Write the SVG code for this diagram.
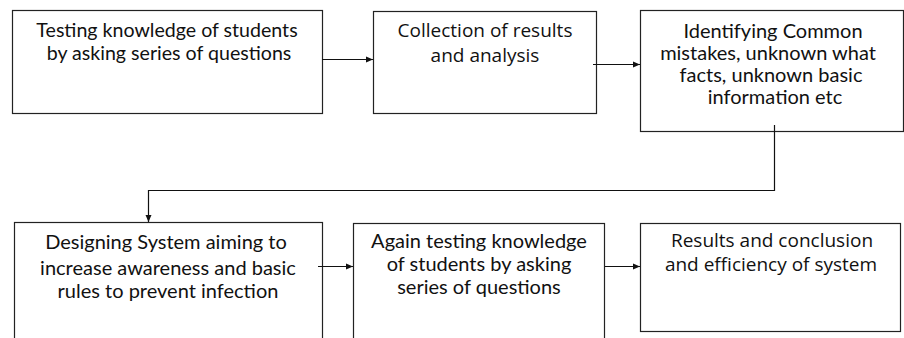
<svg xmlns="http://www.w3.org/2000/svg" width="904" height="338" viewBox="0 0 904 338">
<style>
.box{fill:#fff;stroke:#222;stroke-width:1.2}
.t{font-family:Lato,"Open Sans",sans-serif;font-size:20px;fill:#111;text-anchor:middle}
.g{font-family:"Open Sans",Lato,sans-serif;font-size:19px;fill:#111;text-anchor:middle}
.c{fill:none;stroke:#111;stroke-width:1.2}
</style>
<defs>
<marker id="ah" markerWidth="8" markerHeight="8" refX="7" refY="4" orient="auto" markerUnits="userSpaceOnUse">
<path d="M0,1 L7,4 L0,7 Z" fill="#111"/>
</marker>
</defs>
<rect width="904" height="338" fill="#fff"/>
<g id="n1">
<rect class="box" x="12.5" y="10.5" width="310" height="103"/>
<text class="t" x="167" y="37" style="font-size:19.6px">Testing knowledge of students</text>
<text class="t" x="169" y="59.5" style="font-size:19.6px">by asking series of questions</text>
</g>
<g id="n2">
<rect class="box" x="373.5" y="11.5" width="223" height="102"/>
<text class="g" x="485" y="37">Collection of results</text>
<text class="g" x="485" y="62">and analysis</text>
</g>
<g id="n3">
<rect class="box" x="640.5" y="10.5" width="263" height="121"/>
<text class="t" x="773" y="38">Identifying Common</text>
<text class="t" x="768" y="60">mistakes, unknown what</text>
<text class="t" x="771" y="82">facts, unknown basic</text>
<text class="t" x="775" y="104">information etc</text>
</g>
<g id="n4">
<rect class="box" x="14.5" y="222.5" width="308" height="130"/>
<text class="t" x="166" y="249">Designing System aiming to</text>
<text class="t" x="168" y="275">increase awareness and basic</text>
<text class="t" x="168" y="298">rules to prevent infection</text>
</g>
<g id="n5">
<rect class="box" x="353.5" y="223.5" width="251" height="130"/>
<text class="t" x="479" y="248">Again testing knowledge</text>
<text class="t" x="479" y="271">of students by asking</text>
<text class="t" x="479" y="294">series of questions</text>
</g>
<g id="n6">
<rect class="box" x="640.5" y="223.5" width="260" height="108"/>
<text class="g" x="772" y="247">Results and conclusion</text>
<text class="g" x="771" y="271">and efficiency of system</text>
</g>
<g id="connectors">
<path class="c" d="M322,59.5 H373" marker-end="url(#ah)"/>
<path class="c" d="M593,64.5 H640" marker-end="url(#ah)"/>
<path class="c" d="M774.5,125 V190.5 H148.5 V222" marker-end="url(#ah)"/>
<path class="c" d="M318,266.5 H353" marker-end="url(#ah)"/>
<path class="c" d="M605,266.5 H640" marker-end="url(#ah)"/>
</g>
</svg>
